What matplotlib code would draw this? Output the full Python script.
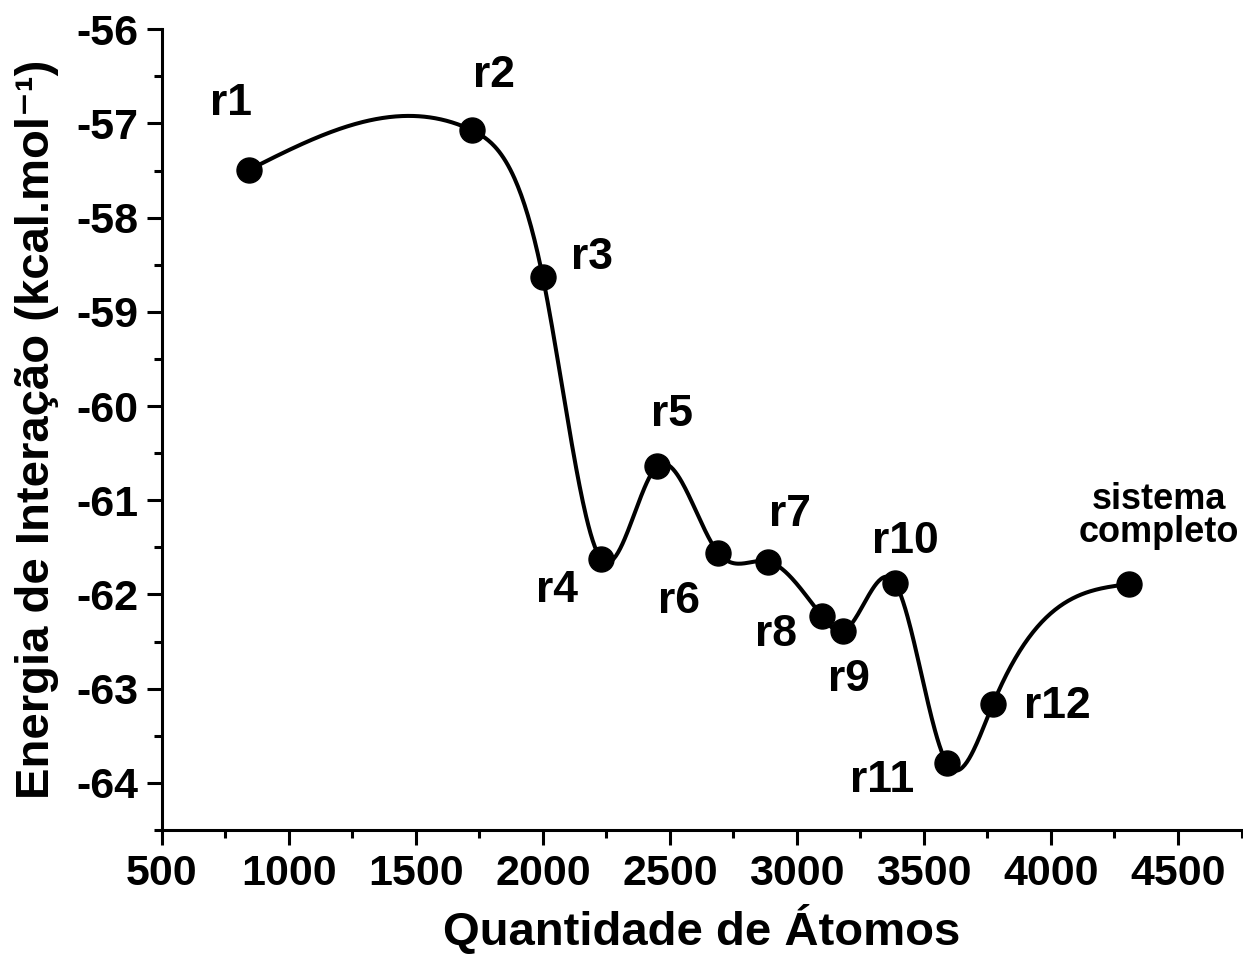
import numpy as np
import matplotlib
matplotlib.use("Agg")
from matplotlib import pyplot as plt

# interaction energy vs. number of atoms in each region
labels = ["r1", "r2", "r3", "r4", "r5", "r6", "r7", "r8", "r9", "r10",
          "r11", "r12", "sistema\ncompleto"]
atoms = [845, 1720, 2000, 2228, 2449, 2691, 2888, 3098, 3181, 3387,
         3590, 3772, 4306]
energy = [-57.49, -57.07, -58.63, -61.62, -60.64, -61.56, -61.65, -62.23,
          -62.39, -61.88, -63.79, -63.16, -61.89]

# label offsets in pixels (dx, dy)
offsets = [(-18, 66), (22, 55), (49, 20), (-44, -32), (15, 52), (-39, -48),
           (22, 47), (-46, -18), (6, -48), (10, 42), (-65, -17), (64, -3),
           (30, 68)]


def natural_spline(x, y, xs):
    x = np.asarray(x, float)
    y = np.asarray(y, float)
    n = len(x)
    h = np.diff(x)
    A = np.zeros((n, n))
    b = np.zeros(n)
    A[0, 0] = A[-1, -1] = 1
    for i in range(1, n - 1):
        A[i, i - 1] = h[i - 1]
        A[i, i] = 2 * (h[i - 1] + h[i])
        A[i, i + 1] = h[i]
        b[i] = 6 * ((y[i + 1] - y[i]) / h[i] - (y[i] - y[i - 1]) / h[i - 1])
    M = np.linalg.solve(A, b)
    k = np.clip(np.searchsorted(x, xs) - 1, 0, n - 2)
    t0 = x[k + 1] - xs
    t1 = xs - x[k]
    hk = h[k]
    return (M[k] * t0**3 / (6 * hk) + M[k + 1] * t1**3 / (6 * hk)
            + (y[k] / hk - M[k] * hk / 6) * t0
            + (y[k + 1] / hk - M[k + 1] * hk / 6) * t1)


plt.rcParams['font.family'] = ['Liberation Sans', 'DejaVu Sans']
plt.rcParams['font.weight'] = 'bold'
plt.rcParams['axes.unicode_minus'] = False

fig = plt.figure(figsize=(12.43, 9.57), dpi=100)
ax = fig.add_axes([0.1301, 0.1327, 0.8687, 0.8367])

xs = np.linspace(atoms[0], atoms[-1], 800)
ax.plot(xs, natural_spline(atoms, energy, xs), color='black', lw=2.9,
        zorder=2)
ax.plot(atoms, energy, 'o', color='black', ms=18, zorder=3)

for lab, x, y, (dx, dy) in zip(labels, atoms, energy, offsets):
    big = "\n" not in lab
    ax.annotate(lab, (x, y), xytext=(dx, dy), textcoords='offset pixels',
                ha='center', va='center', fontsize=32 if big else 26,
                fontweight='bold', linespacing=0.95)

ax.set_xlim(500, 4750)
ax.set_ylim(-64.5, -56)
ax.set_xticks(np.arange(500, 4501, 500))
ax.set_xticks(np.arange(750, 4751, 500), minor=True)
ax.set_yticks(np.arange(-64, -55.9, 1))
ax.set_yticks(np.arange(-64.5, -56, 1), minor=True)
ax.tick_params(which='major', length=11, width=2.2, labelsize=31, pad=6)
ax.tick_params(which='minor', length=6, width=2.2)
for lbl in ax.get_xticklabels() + ax.get_yticklabels():
    lbl.set_fontweight('bold')
ax.spines[['top', 'right']].set_visible(False)
ax.spines[['left', 'bottom']].set_linewidth(2.2)

ax.set_xlabel("Quantidade de Átomos", fontsize=34, fontweight='bold',
              labelpad=8)
ax.set_ylabel("Energia de Interação (kcal.mol⁻¹)", fontsize=34,
              fontweight='bold', labelpad=12)

fig.savefig("out.png", dpi=100)
